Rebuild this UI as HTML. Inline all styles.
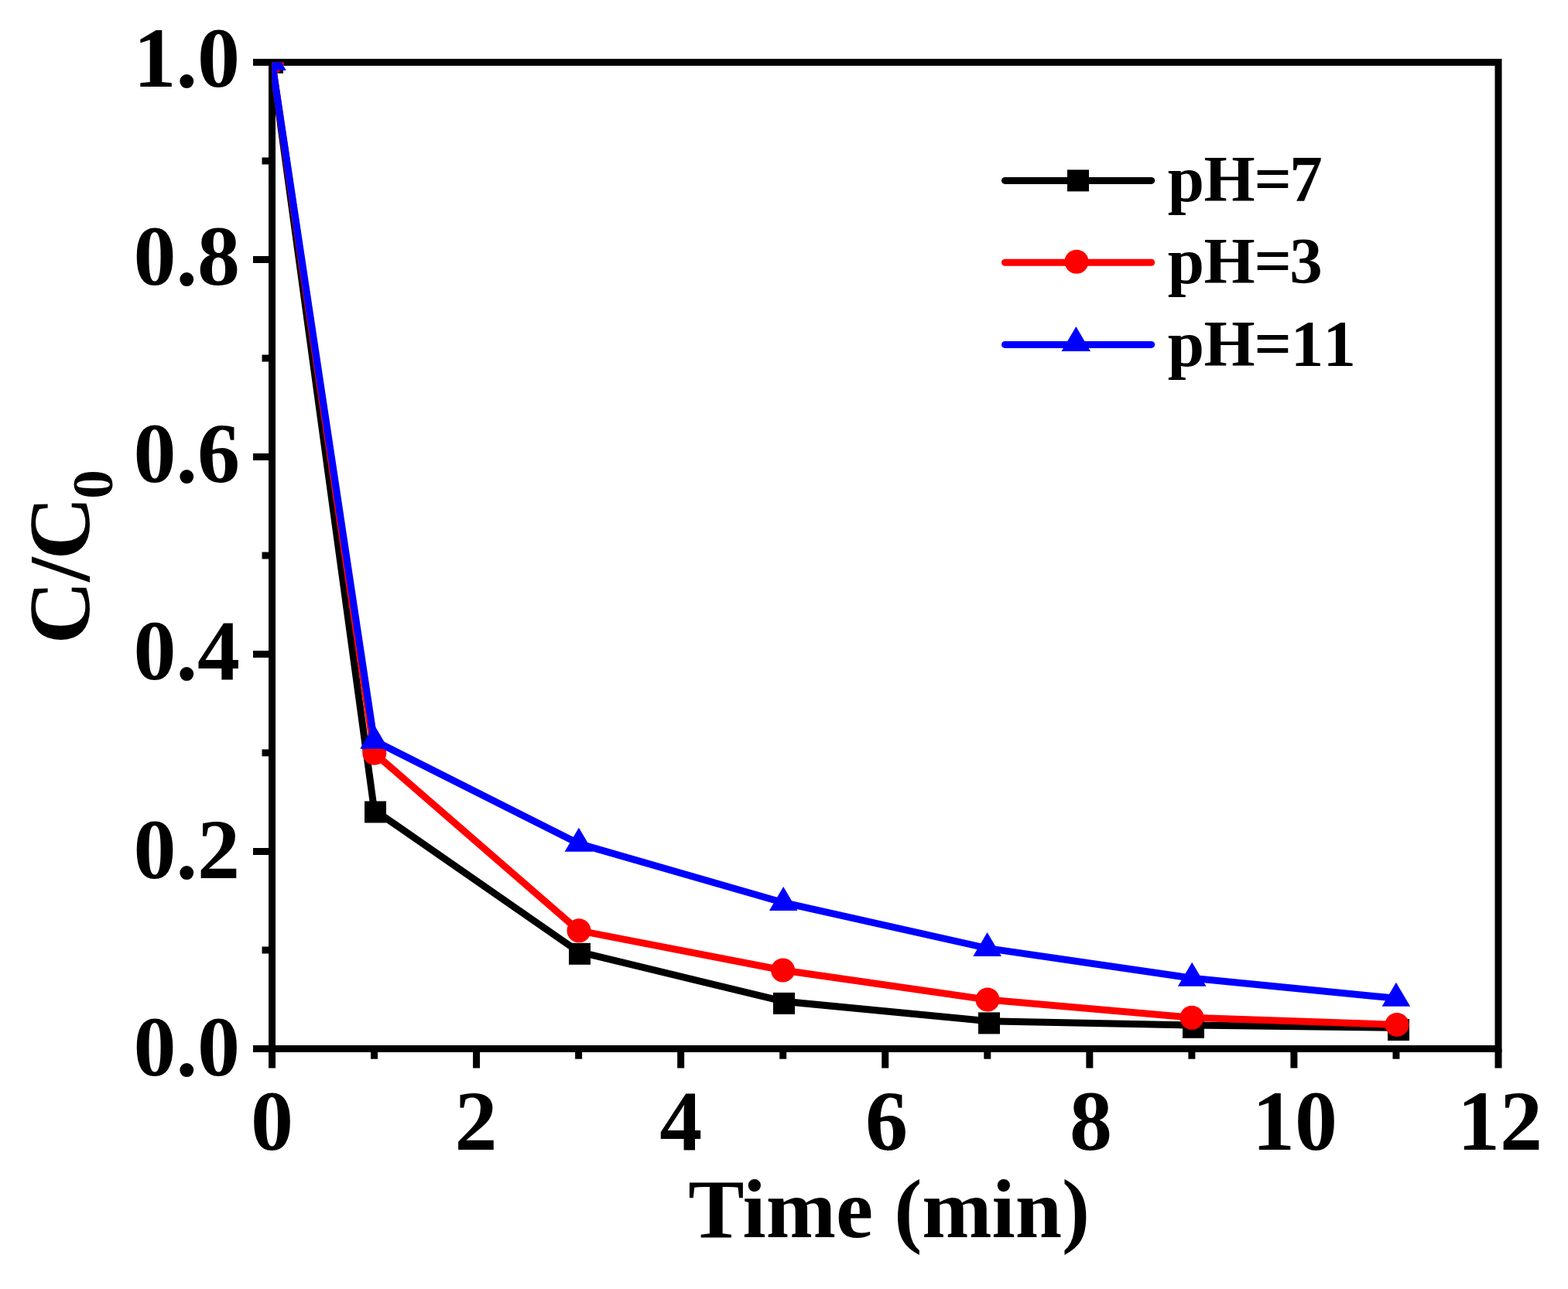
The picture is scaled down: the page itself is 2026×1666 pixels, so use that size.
<!DOCTYPE html>
<html><head><meta charset="utf-8"><style>
html,body{margin:0;padding:0;background:#fff;overflow:hidden}
svg{display:block}
</style></head><body>
<svg width="2026" height="1666" viewBox="0 0 2026 1666">
<rect x="0" y="0" width="2026" height="1666" fill="#fff"/>
<g stroke="#000" stroke-width="9" fill="none" stroke-linecap="butt">
<rect x="351.5" y="80.5" width="1584.5" height="1275.0" stroke-linejoin="miter"/>
<line x1="327.0" y1="1355.5" x2="351.5" y2="1355.5"/>
<line x1="338.5" y1="1228.0" x2="351.5" y2="1228.0"/>
<line x1="327.0" y1="1100.5" x2="351.5" y2="1100.5"/>
<line x1="338.5" y1="973.0" x2="351.5" y2="973.0"/>
<line x1="327.0" y1="845.5" x2="351.5" y2="845.5"/>
<line x1="338.5" y1="718.0" x2="351.5" y2="718.0"/>
<line x1="327.0" y1="590.5" x2="351.5" y2="590.5"/>
<line x1="338.5" y1="463.0" x2="351.5" y2="463.0"/>
<line x1="327.0" y1="335.5" x2="351.5" y2="335.5"/>
<line x1="338.5" y1="208.0" x2="351.5" y2="208.0"/>
<line x1="327.0" y1="80.5" x2="351.5" y2="80.5"/>
<line x1="351.5" y1="1355.5" x2="351.5" y2="1380.5"/>
<line x1="483.54166666666663" y1="1355.5" x2="483.54166666666663" y2="1368.7"/>
<line x1="615.5833333333333" y1="1355.5" x2="615.5833333333333" y2="1380.5"/>
<line x1="747.625" y1="1355.5" x2="747.625" y2="1368.7"/>
<line x1="879.6666666666666" y1="1355.5" x2="879.6666666666666" y2="1380.5"/>
<line x1="1011.7083333333334" y1="1355.5" x2="1011.7083333333334" y2="1368.7"/>
<line x1="1143.75" y1="1355.5" x2="1143.75" y2="1380.5"/>
<line x1="1275.7916666666665" y1="1355.5" x2="1275.7916666666665" y2="1368.7"/>
<line x1="1407.8333333333333" y1="1355.5" x2="1407.8333333333333" y2="1380.5"/>
<line x1="1539.875" y1="1355.5" x2="1539.875" y2="1368.7"/>
<line x1="1671.9166666666667" y1="1355.5" x2="1671.9166666666667" y2="1380.5"/>
<line x1="1803.9583333333333" y1="1355.5" x2="1803.9583333333333" y2="1368.7"/>
<line x1="1936.0" y1="1355.5" x2="1936.0" y2="1380.5"/>
</g>
<g font-family="Liberation Serif, serif" font-weight="bold" font-size="110" fill="#000">
<text x="310" y="1389.5" text-anchor="end">0.0</text>
<text x="310" y="1134.5" text-anchor="end">0.2</text>
<text x="310" y="877.5" text-anchor="end">0.4</text>
<text x="310" y="622.5" text-anchor="end">0.6</text>
<text x="310" y="367.5" text-anchor="end">0.8</text>
<text x="310" y="112.0" text-anchor="end">1.0</text>
<text x="351.5" y="1486" text-anchor="middle">0</text>
<text x="615.1" y="1486" text-anchor="middle">2</text>
<text x="879.7" y="1486" text-anchor="middle">4</text>
<text x="1145.5" y="1486" text-anchor="middle">6</text>
<text x="1409.5" y="1486" text-anchor="middle">8</text>
<text x="1673.1" y="1486" text-anchor="middle">10</text>
<text x="1938.0" y="1486" text-anchor="middle">12</text>
</g>
<text x="889.2" y="1599" font-family="Liberation Serif, serif" font-weight="bold" font-size="108.4">Time (min)</text>
<text transform="translate(115.1,832.5) rotate(-90)" font-family="Liberation Serif, serif" font-weight="bold" font-size="113"><tspan x="0">C</tspan><tspan x="80.8">/</tspan><tspan x="109">C</tspan><tspan x="187.7" dy="29.6" font-size="75">0</tspan></text>
<defs><clipPath id="pc"><rect x="351.5" y="80.5" width="1584.5" height="1275"/></clipPath></defs>
<g clip-path="url(#pc)">
<polyline points="351.5,80.5 483.5,1046.8 747.6,1230.1 1011.7,1294.2 1275.8,1319.7 1539.9,1325.1 1804.0,1328.3" fill="none" stroke="#000" stroke-width="9" stroke-linejoin="round" stroke-linecap="round"/>
<rect x="338.0" y="66.8" width="28" height="28" fill="#000"/>
<rect x="471.0" y="1035.5" width="28" height="28" fill="#000"/>
<rect x="735.0" y="1218.8" width="28" height="28" fill="#000"/>
<rect x="999.0" y="1282.9" width="28" height="28" fill="#000"/>
<rect x="1264.0" y="1308.4" width="28" height="28" fill="#000"/>
<rect x="1528.0" y="1313.8" width="28" height="28" fill="#000"/>
<rect x="1793.0" y="1317.0" width="28" height="28" fill="#000"/>
<polyline points="351.5,80.5 483.5,973.3 747.6,1202.7 1011.7,1254.0 1275.8,1292.0 1539.9,1315.2 1804.0,1324.4" fill="none" stroke="#f00" stroke-width="9" stroke-linejoin="round" stroke-linecap="round"/>
<circle cx="351.5" cy="80.5" r="15.5" fill="#f00"/>
<circle cx="483.8" cy="973.3" r="15.5" fill="#f00"/>
<circle cx="748.0" cy="1202.7" r="15.5" fill="#f00"/>
<circle cx="1011.6" cy="1254.0" r="15.5" fill="#f00"/>
<circle cx="1276.0" cy="1292.0" r="15.5" fill="#f00"/>
<circle cx="1540.0" cy="1315.2" r="15.5" fill="#f00"/>
<circle cx="1805.0" cy="1324.4" r="15.5" fill="#f00"/>
<polyline points="351.5,80.5 483.5,957.3 747.6,1090.3 1011.7,1166.5 1275.8,1225.6 1539.9,1264.2 1804.0,1290.3" fill="none" stroke="#00f" stroke-width="9" stroke-linejoin="round" stroke-linecap="round"/>
<polygon points="351.5,60.0 333.2,91.0 369.8,91.0" fill="#00f"/>
<polygon points="483.5,936.8 465.2,967.8 501.8,967.8" fill="#00f"/>
<polygon points="747.9,1069.8 729.6,1100.8 766.2,1100.8" fill="#00f"/>
<polygon points="1012.2,1146.0 993.9,1177.0 1030.5,1177.0" fill="#00f"/>
<polygon points="1275.6,1205.1 1257.3,1236.1 1293.9,1236.1" fill="#00f"/>
<polygon points="1540.2,1243.7 1521.9,1274.7 1558.5,1274.7" fill="#00f"/>
<polygon points="1803.9,1269.8 1785.6,1300.8 1822.2,1300.8" fill="#00f"/>
</g>
<line x1="1298.5" y1="233.4" x2="1487.7" y2="233.4" stroke="#000" stroke-width="9" stroke-linecap="round"/>
<rect x="1379.0" y="219.4" width="28" height="28" fill="#000"/>
<text y="260.1" font-family="Liberation Serif, serif" font-weight="bold" font-size="85"><tspan x="1508.7">p</tspan><tspan x="1555.5">H</tspan><tspan x="1620.4">=</tspan><tspan x="1666.2">7</tspan></text>
<line x1="1298.5" y1="339.2" x2="1487.7" y2="339.2" stroke="#f00" stroke-width="9" stroke-linecap="round"/>
<circle cx="1391" cy="338.2" r="15.5" fill="#f00"/>
<text y="365.9" font-family="Liberation Serif, serif" font-weight="bold" font-size="85"><tspan x="1508.7">p</tspan><tspan x="1555.5">H</tspan><tspan x="1620.4">=</tspan><tspan x="1666.2">3</tspan></text>
<line x1="1298.5" y1="445.4" x2="1487.7" y2="445.4" stroke="#00f" stroke-width="9" stroke-linecap="round"/>
<polygon points="1390.4,422.1 1371.5,454.1 1409.0,454.1" fill="#00f"/>
<text y="472.7" font-family="Liberation Serif, serif" font-weight="bold" font-size="85"><tspan x="1508.7">p</tspan><tspan x="1555.5">H</tspan><tspan x="1620.4">=</tspan><tspan x="1667.7">1</tspan><tspan x="1709.6">1</tspan></text>
</svg>
</body></html>
